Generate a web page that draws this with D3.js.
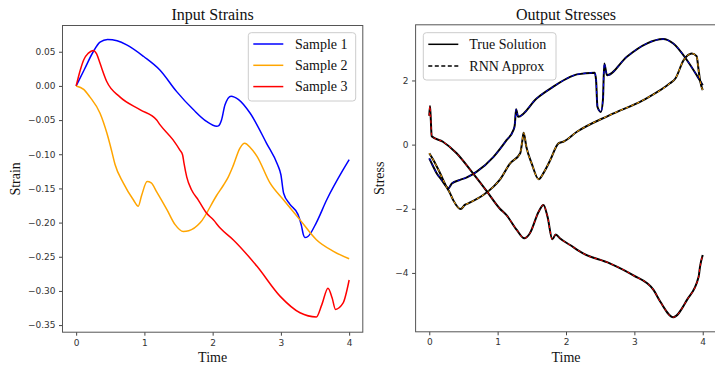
<!DOCTYPE html>
<html>
<head>
<meta charset="utf-8">
<script src="https://cdn.jsdelivr.net/npm/d3@7"></script>
<style>
  body { margin: 0; background: #fff; }
  .tick text { font-family: "DejaVu Sans", sans-serif; font-size: 9px; fill: #333; }
  .tick line { stroke: #444; }
  .serif { font-family: "Liberation Serif", "Times New Roman", serif; fill: #111; }
</style>
</head>
<body>
<svg id="chart" width="715" height="365"></svg>
<script>
// Input strains, [time, strain]
const strain1 = [[0,0],[0.12,0.024],[0.25,0.05],[0.35,0.064],[0.46,0.068],[0.6,0.066],[0.74,0.06],[0.99,0.043],[1.23,0.023],[1.47,-0.008],[1.72,-0.035],[1.91,-0.052],[2.06,-0.059],[2.09,-0.058],[2.13,-0.05],[2.18,-0.028],[2.27,-0.015],[2.38,-0.02],[2.55,-0.04],[2.79,-0.084],[2.95,-0.115],[3.0,-0.13],[3.04,-0.157],[3.13,-0.173],[3.25,-0.188],[3.30,-0.204],[3.33,-0.218],[3.35,-0.222],[3.4,-0.22],[3.52,-0.2],[3.67,-0.167],[3.91,-0.123],[4.0,-0.108]];
const strain2 = [[0,0],[0.11,-0.005],[0.2,-0.016],[0.35,-0.04],[0.45,-0.069],[0.52,-0.095],[0.57,-0.115],[0.69,-0.142],[0.84,-0.167],[0.91,-0.176],[0.96,-0.16],[1.04,-0.14],[1.1,-0.142],[1.18,-0.155],[1.33,-0.181],[1.45,-0.203],[1.57,-0.213],[1.65,-0.212],[1.82,-0.2],[2.06,-0.16],[2.16,-0.145],[2.23,-0.133],[2.30,-0.117],[2.40,-0.091],[2.47,-0.084],[2.55,-0.09],[2.65,-0.103],[2.84,-0.142],[3.04,-0.167],[3.28,-0.196],[3.52,-0.225],[3.77,-0.242],[4.0,-0.253]];
const strain3 = [[0,0],[0.06,0.023],[0.11,0.038],[0.18,0.048],[0.25,0.052],[0.3,0.047],[0.35,0.033],[0.45,0.006],[0.64,-0.016],[0.94,-0.035],[1.18,-0.05],[1.23,-0.057],[1.42,-0.079],[1.52,-0.094],[1.56,-0.101],[1.58,-0.113],[1.62,-0.133],[1.69,-0.152],[1.79,-0.167],[1.91,-0.186],[2.01,-0.196],[2.11,-0.208],[2.30,-0.225],[2.65,-0.264],[2.99,-0.308],[3.28,-0.332],[3.52,-0.338],[3.6,-0.32],[3.69,-0.296],[3.75,-0.31],[3.80,-0.327],[3.91,-0.318],[4.0,-0.284]];

// Output stresses, [time, stress]
const stress1 = [[0,-0.43],[0.05,-0.65],[0.11,-0.9],[0.18,-1.1],[0.25,-1.31],[0.28,-1.36],[0.33,-1.21],[0.45,-1.1],[0.55,-1.02],[0.69,-0.85],[0.94,-0.38],[1.13,0.14],[1.23,0.45],[1.25,0.6],[1.27,1.1],[1.30,0.87],[1.57,1.44],[1.81,1.8],[2.06,2.11],[2.16,2.19],[2.42,2.24],[2.44,2.0],[2.46,1.18],[2.51,1.02],[2.54,1.39],[2.56,2.53],[2.6,2.16],[2.89,2.74],[3.18,3.15],[3.42,3.29],[3.57,3.15],[3.77,2.63],[3.91,2.17],[4.0,1.85]];
const stress2 = [[0,-0.27],[0.06,-0.48],[0.16,-0.9],[0.25,-1.31],[0.3,-1.5],[0.35,-1.73],[0.46,-2.01],[0.52,-1.88],[0.57,-1.83],[0.79,-1.57],[0.94,-1.31],[1.03,-1.1],[1.18,-0.59],[1.33,-0.27],[1.36,0.1],[1.38,0.37],[1.42,-0.07],[1.5,-0.6],[1.6,-1.08],[1.68,-0.85],[1.77,-0.48],[1.89,0.04],[1.96,0.09],[2.16,0.4],[2.64,0.92],[3.13,1.39],[3.52,1.91],[3.6,2.06],[3.72,2.63],[3.84,2.84],[3.91,2.76],[3.94,2.32],[3.96,2.01],[4.0,1.7]];
const stress3 = [[0,0.9],[0.01,1.2],[0.02,0.9],[0.035,0.26],[0.2,0.09],[0.4,-0.27],[0.64,-0.9],[0.84,-1.45],[1.03,-1.99],[1.13,-2.2],[1.28,-2.66],[1.39,-2.92],[1.47,-2.77],[1.6,-2.09],[1.67,-1.88],[1.73,-2.25],[1.80,-2.95],[1.85,-2.8],[1.91,-2.92],[2.06,-3.13],[2.25,-3.39],[2.64,-3.7],[2.98,-4.07],[3.28,-4.53],[3.38,-4.9],[3.57,-5.38],[3.77,-4.84],[3.94,-4.12],[3.96,-3.81],[4.0,-3.44]];

const sampleNames = ["Sample 1", "Sample 2", "Sample 3"];
const sampleColors = ["blue", "orange", "red"];
const xTicks = [0, 1, 2, 3, 4];
const strainTicks = [-0.35, -0.30, -0.25, -0.20, -0.15, -0.10, -0.05, 0.00, 0.05];
const stressTicks = [-4, -2, 0, 2];

const svg = d3.select("#chart");
svg.append("rect").attr("width", 715).attr("height", 365).attr("fill", "#fff");

// one matplotlib-like panel: frame, ticks, title, labels
function panel(box, yDomain, yTicks, yFmt, title, ylabel) {
    const x = d3.scaleLinear().domain([-0.2, 4.2]).range([box.left, box.left + box.width]);
    const y = d3.scaleLinear().domain(yDomain).range([box.top + box.height, box.top]);

    const gx = svg.append("g")
        .attr("transform", `translate(0,${box.top + box.height})`)
        .call(d3.axisBottom(x).tickValues(xTicks).tickFormat(d3.format("d")).tickSize(3.5).tickPadding(3.5));
    gx.select(".domain").remove();

    const gy = svg.append("g")
        .attr("transform", `translate(${box.left},0)`)
        .call(d3.axisLeft(y).tickValues(yTicks).tickFormat(yFmt).tickSize(3.5).tickPadding(3.5));
    gy.select(".domain").remove();

    svg.append("text").attr("class", "serif")
        .attr("x", box.left + box.width / 2).attr("y", 19.5)
        .attr("text-anchor", "middle").attr("font-size", 16).text(title);
    svg.append("text").attr("class", "serif")
        .attr("x", box.left + box.width / 2).attr("y", 362)
        .attr("text-anchor", "middle").attr("font-size", 14).text("Time");
    svg.append("text").attr("class", "serif")
        .attr("transform", `translate(${box.left - box.ylabelOffset},${box.top + box.height / 2}) rotate(-90)`)
        .attr("text-anchor", "middle").attr("font-size", 14).text(ylabel);

    return { x, y };
}

function frame(box) {
    svg.append("rect")
        .attr("x", box.left).attr("y", box.top)
        .attr("width", box.width).attr("height", box.height)
        .attr("fill", "none").attr("stroke", "#555").attr("stroke-width", 1);
}

function legendBox(x0, y0, w, h) {
    svg.append("rect")
        .attr("x", x0).attr("y", y0).attr("width", w).attr("height", h).attr("rx", 3)
        .attr("fill", "#fff").attr("fill-opacity", 0.8)
        .attr("stroke", "#ccc").attr("stroke-width", 1);
}

// ---- left: input strains
const leftBox = { left: 62.5, top: 25.5, width: 300.3, height: 306.7, ylabelOffset: 43 };
const L = panel(leftBox, [-0.3604, 0.0884], strainTicks, d3.format(".2f"), "Input Strains", "Strain");

const lineL = d3.line().x(d => L.x(d[0])).y(d => L.y(d[1])).curve(d3.curveMonotoneX);
[strain1, strain2, strain3].forEach((s, i) => {
    svg.append("path").datum(s)
        .attr("d", lineL).attr("fill", "none")
        .attr("stroke", sampleColors[i]).attr("stroke-width", 1.5);
});
frame(leftBox);

legendBox(248.3, 32.7, 107.4, 68.3);
sampleNames.forEach((name, i) => {
    const yy = 44 + i * 21.3;
    svg.append("line").attr("x1", 253.3).attr("x2", 283.3).attr("y1", yy).attr("y2", yy)
        .attr("stroke", sampleColors[i]).attr("stroke-width", 1.5);
    svg.append("text").attr("class", "serif").attr("x", 295).attr("y", yy).attr("dy", "0.33em")
        .attr("font-size", 14).text(name);
});

// ---- right: output stresses
const rightBox = { left: 415.6, top: 24.8, width: 300.8, height: 307, ylabelOffset: 32 };
const R = panel(rightBox, [-5.835, 3.735], stressTicks, d3.format("d"), "Output Stresses", "Stress");

const lineR = d3.line().x(d => R.x(d[0])).y(d => R.y(d[1])).curve(d3.curveMonotoneX);
[stress1, stress2, stress3].forEach((s, i) => {
    // true solution
    svg.append("path").datum(s)
        .attr("d", lineR).attr("fill", "none")
        .attr("stroke", "#000").attr("stroke-width", 2);
    // rnn approximation
    svg.append("path").datum(s)
        .attr("d", lineR).attr("fill", "none")
        .attr("stroke", sampleColors[i]).attr("stroke-width", 1)
        .attr("stroke-dasharray", "3,3");
});
frame(rightBox);

legendBox(423.3, 32.7, 132.7, 47.3);
[["True Solution", null], ["RNN Approx", "4,2.5"]].forEach(([name, dash], i) => {
    const yy = 44.3 + i * 21.7;
    svg.append("line").attr("x1", 428.3).attr("x2", 458.3).attr("y1", yy).attr("y2", yy)
        .attr("stroke", "#000").attr("stroke-width", 1.5)
        .attr("stroke-dasharray", dash);
    svg.append("text").attr("class", "serif").attr("x", 469.3).attr("y", yy).attr("dy", "0.33em")
        .attr("font-size", 14).text(name);
});
</script>
</body>
</html>
